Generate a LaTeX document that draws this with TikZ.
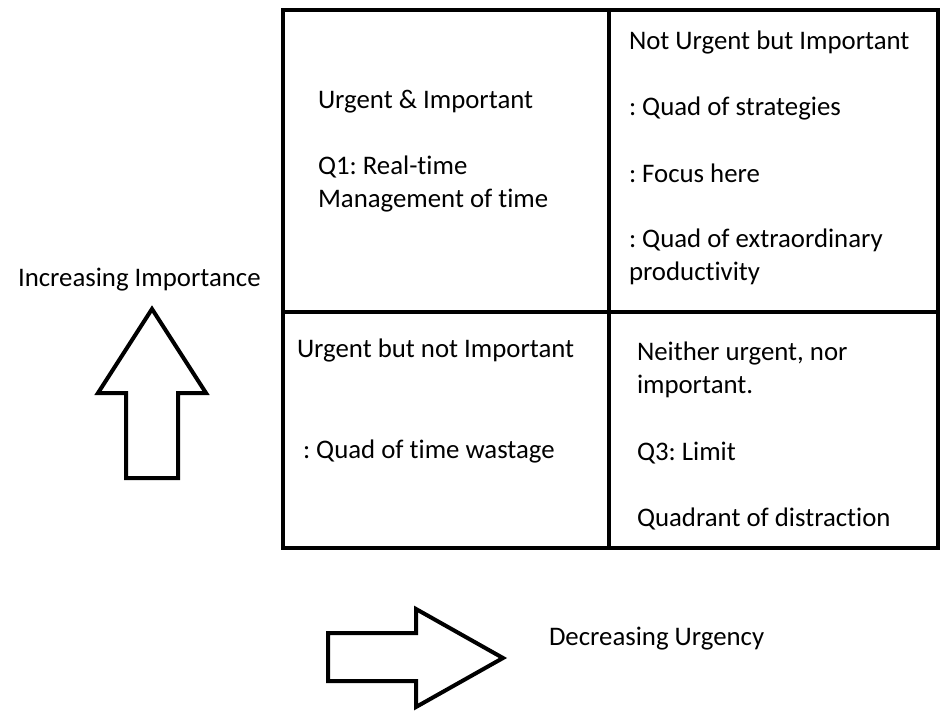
\documentclass[tikz,border=0pt]{standalone}
\usepackage{fontspec}
\setmainfont{Carlito}[Ligatures={NoCommon,NoContextual}]
\usetikzlibrary{positioning}
\frenchspacing

\begin{document}
\begin{tikzpicture}[x=1pt, y=-1pt, line width=4pt, line join=miter,
    txt/.style={anchor=base west, inner sep=0pt, align=left, font=\fontsize{26.8}{32.5}\selectfont}]
  \useasboundingbox (0,0) rectangle (946,717);

  % the four quadrants
  \draw (283,10) rectangle (938,548);
  \draw (609,10) -- (609,548);
  \draw (283,312) -- (938,312);

  % block arrows
  \draw (126,478) -- (126,393) -- (98,393) -- (152,309) -- (206,393)
    -- (178,393) -- (178,478) -- cycle;
  \draw (328,633) -- (416,633) -- (416,609) -- (503,658) -- (416,707)
    -- (416,681) -- (328,681) -- cycle;

  % axis labels (base of last line)
  \node[txt] (imp) at (16,286) {Increasing Importance};
  \node[txt] (urg) at (547,645) {Decreasing Urgency};

  % top left
  \node[txt] (q1head) at (316,109) {Urgent \& Important};
  \node[txt] (q1body) at (316,207) {Q1: Real-time\\Management of time};

  % top right
  \node[txt] (q2head) at (627,50) {Not Urgent but Important};
  \node[txt] (q2a) at (627,116) {: Quad of strategies};
  \node[txt] (q2b) at (627,182) {: Focus here};
  \node[txt] (q2c) at (627,280) {: Quad of extraordinary\\productivity};

  % bottom left
  \node[txt] (q4head) at (295,357) {Urgent but not Important};
  \node[txt] (q4a) at (301,458) {: Quad of time wastage};

  % bottom right
  \node[txt] (q3head) at (635,393) {Neither urgent, nor\\important.};
  \node[txt] (q3a) at (635,460) {Q3: Limit};
  \node[txt] (q3b) at (635,526) {Quadrant of distraction};
\end{tikzpicture}
\end{document}
